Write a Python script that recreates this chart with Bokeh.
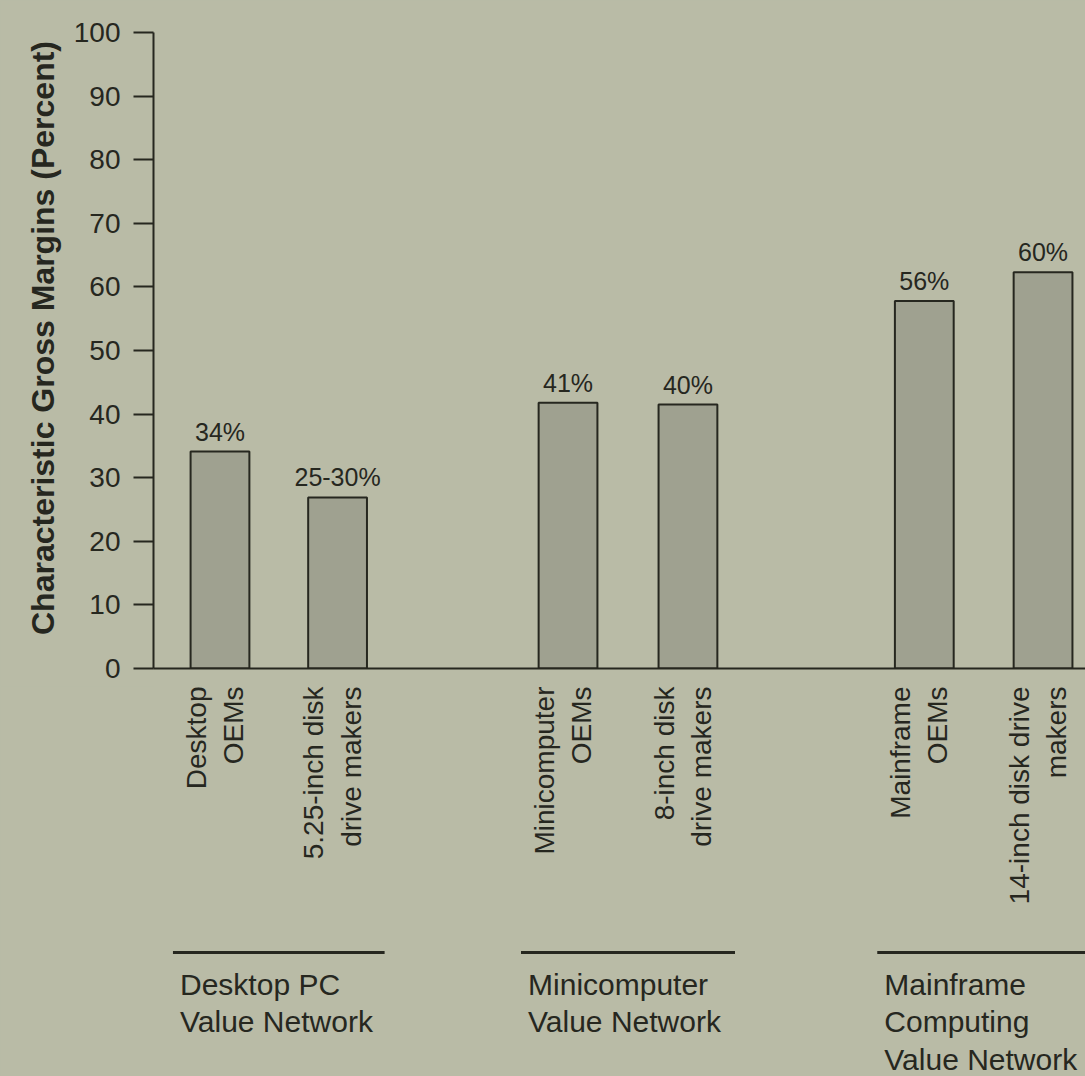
from math import pi
from bokeh.plotting import figure
from bokeh.layouts import column
from bokeh.models import FixedTicker, ColumnDataSource, Range1d
from bokeh.embed import file_html
from bokeh.resources import INLINE
from bokeh.core.properties import value

# ---- data ----
categories = ["Desktop\nOEMs", "5.25-inch disk\ndrive makers",
              "Minicomputer\nOEMs", "8-inch disk\ndrive makers",
              "Mainframe\nOEMs", "14-inch disk drive\nmakers"]
positions = [1, 2, 3.96, 4.98, 6.99, 8.0]
margins = [34.1, 26.9, 41.8, 41.5, 57.8, 62.3]
value_labels = ["34%", "25-30%", "41%", "40%", "56%", "60%"]
groups = ["Desktop PC\nValue Network", "Minicomputer\nValue Network",
          "Mainframe\nComputing\nValue Network"]
group_members = [(0, 1), (2, 3), (4, 5)]
y_ticks = list(range(0, 101, 10))

# ---- style / layout ----
PAPER = "#b9bba6"
BAR = "#9fa190"
INK = "#26271f"
FONT = "Liberation Sans"
W = 1085
H_TOP, H_BOT = 686, 390
LEFT, TOP, BOTTOM = 153, 7, 18
AXIS_TOP_PX, AXIS_ZERO_PX = 32, 668          # where 100 and 0 sit
Y_END = 100.0 * (AXIS_ZERO_PX - TOP) / (AXIS_ZERO_PX - AXIS_TOP_PX)

xr = Range1d(0.4345, 8.361)

src = ColumnDataSource(dict(x=positions, top=margins, lab=value_labels))

p = figure(width=W, height=H_TOP, output_backend="svg", toolbar_location=None,
           x_range=xr, y_range=Range1d(0, Y_END),
           min_border_left=LEFT, min_border_top=TOP, min_border_bottom=BOTTOM,
           min_border_right=0)
p.background_fill_color = None
p.border_fill_color = PAPER
p.outline_line_color = None
p.grid.visible = False

p.vbar(x="x", top="top", bottom=0, width=0.5, source=src,
       fill_color=BAR, line_color=INK, line_width=2)
p.text(x="x", y="top", text="lab", source=src, text_align="center",
       text_baseline="bottom", y_offset=-6, text_color=INK,
       text_font=value(FONT), text_font_size="25px")

# y axis
ya = p.yaxis[0]
ya.bounds = (0, 100)
ya.ticker = FixedTicker(ticks=y_ticks)
ya.minor_tick_line_color = None
ya.major_tick_in = 0
ya.major_tick_out = 20
ya.major_tick_line_width = 2
ya.major_tick_line_color = INK
ya.axis_line_width = 2
ya.axis_line_color = INK
ya.major_label_standoff = 13
ya.major_label_text_font = FONT
ya.major_label_text_font_size = "28px"
ya.major_label_text_color = INK
ya.axis_label = "Characteristic Gross Margins (Percent)"
ya.axis_label_text_font = FONT
ya.axis_label_text_font_style = "bold"
ya.axis_label_text_font_size = "32px"
ya.axis_label_text_color = INK
ya.axis_label_standoff = 10

# x axis: only the baseline rule
xa = p.xaxis[0]
xa.ticker = FixedTicker(ticks=[])
xa.minor_tick_line_color = None
xa.major_tick_line_color = None
xa.major_tick_in = 0
xa.major_tick_out = 0
xa.major_label_standoff = 0
xa.axis_line_width = 2
xa.axis_line_color = INK

# ---- lower panel: category names and value-network groups ----
q = figure(width=W, height=H_BOT, output_backend="svg", toolbar_location=None,
           x_range=xr, y_range=Range1d(H_BOT, 0),
           x_axis_location=None, y_axis_location=None,
           min_border_left=LEFT, min_border_top=0, min_border_bottom=0,
           min_border_right=0)
q.background_fill_color = None
q.border_fill_color = PAPER
q.outline_line_color = None
q.grid.visible = False

CAT_Y = 0      # px below the top of the lower panel
RULE_Y = 266
GTEXT_Y = 281

q.text(x=positions, y=[CAT_Y] * len(positions), text=categories,
       angle=pi / 2, text_align="right", text_baseline="middle",
       x_offset=-5, text_color=INK, text_font=value(FONT),
       text_font_size="28px", text_line_height=1.2)

q.segment(x0=[positions[a] - 0.4 for a, b in group_members],
          x1=[positions[b] + 0.4 for a, b in group_members],
          y0=[RULE_Y] * len(groups), y1=[RULE_Y] * len(groups),
          line_color=INK, line_width=3)
q.text(x=[positions[a] - 0.34 for a, b in group_members],
       y=[GTEXT_Y] * len(groups), text=groups,
       text_align="left", text_baseline="top", text_color=INK,
       text_font=value(FONT), text_font_size="30px", text_line_height=1.15)

layout = column(p, q, spacing=0, styles={"background-color": PAPER})
open("out.html", "w").write(file_html(layout, INLINE))
